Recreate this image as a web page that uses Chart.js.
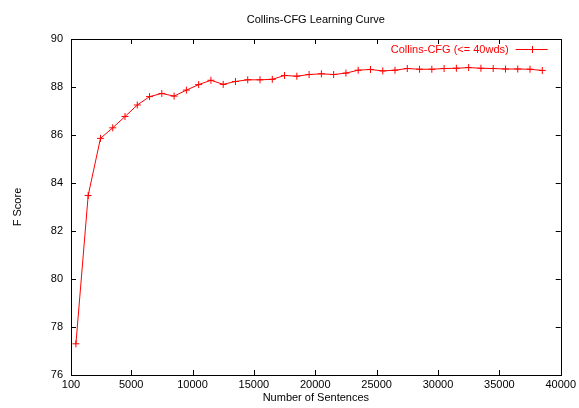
<!DOCTYPE html>
<html>
<head>
<meta charset="utf-8">
<script src="https://cdn.jsdelivr.net/npm/chart.js@4/dist/chart.umd.min.js"></script>
<style>
html,body{margin:0;padding:0;background:#fff;}
#wrap{width:579px;height:408px;}
</style>
</head>
<body>
<div id="wrap"><canvas id="c" width="579" height="408"></canvas></div>
<script>
const sentenceCounts = [500, 1500, 2500, 3500, 4500, 5500, 6500, 7500, 8500, 9500,
  10500, 11500, 12500, 13500, 14500, 15500, 16500, 17500, 18500, 19500,
  20500, 21500, 22500, 23500, 24500, 25500, 26500, 27500, 28500, 29500,
  30500, 31500, 32500, 33500, 34500, 35500, 36500, 37500, 38500];
const fScores = [77.30, 83.48, 85.86, 86.30, 86.77, 87.25, 87.60, 87.73, 87.62, 87.87,
  88.10, 88.28, 88.11, 88.23, 88.30, 88.30, 88.32, 88.48, 88.45, 88.52,
  88.55, 88.52, 88.58, 88.70, 88.73, 88.67, 88.70, 88.77, 88.74, 88.74,
  88.77, 88.78, 88.81, 88.78, 88.77, 88.75, 88.75, 88.74, 88.69];
const xTickValues = [100, 5000, 10000, 15000, 20000, 25000, 30000, 35000, 40000];
const xTickLabels = ["100", "5000", "10000", "15000", "20000", "25000", "30000", "35000", "40000"];
const yTickValues = [76, 78, 80, 82, 84, 86, 88, 90];
const seriesName = "Collins-CFG (<= 40wds)";
const chartTitle = "Collins-CFG Learning Curve";
const xTitle = "Number of Sentences";
const yTitle = "F Score";

const FONT = "'Liberation Sans', Arial, sans-serif";
const RED = "#ff0000";

const framePlugin = {
  id: 'frame',
  beforeDatasetsDraw(chart) {
    const ctx = chart.ctx, a = chart.chartArea;
    const xs = chart.scales.x, ys = chart.scales.y;
    const tl = 5;
    ctx.save();
    ctx.strokeStyle = '#000';
    ctx.lineWidth = 1;
    ctx.beginPath();
    xs.ticks.forEach(t => {
      const px = Math.round(xs.getPixelForValue(t.value)) + 0.5;
      ctx.moveTo(px, a.bottom); ctx.lineTo(px, a.bottom - tl);
      ctx.moveTo(px, a.top); ctx.lineTo(px, a.top + tl);
    });
    ys.ticks.forEach(t => {
      const py = Math.round(ys.getPixelForValue(t.value)) + 0.5;
      ctx.moveTo(a.left, py); ctx.lineTo(a.left + tl, py);
      ctx.moveTo(a.right, py); ctx.lineTo(a.right - tl, py);
    });
    ctx.stroke();
    ctx.strokeRect(Math.round(a.left) + 0.5, Math.round(a.top) + 0.5,
      Math.round(a.right - a.left), Math.round(a.bottom - a.top));
    ctx.restore();
  },
  afterDraw(chart) {
    const ctx = chart.ctx, a = chart.chartArea;
    const ds = chart.data.datasets[0];
    ctx.save();
    // title centred over the plot area
    ctx.font = "11px " + FONT;
    ctx.fillStyle = '#000';
    ctx.textAlign = 'center';
    ctx.textBaseline = 'middle';
    ctx.fillText(chartTitle, (a.left + a.right) / 2, a.top - 19);
    // legend inside top-right
    const y = a.top + 10.5;
    const lineX1 = a.right - 45, lineX2 = a.right - 13;
    ctx.fillStyle = RED;
    ctx.textAlign = 'right';
    ctx.fillText(ds.label, lineX1 - 7, y);
    ctx.strokeStyle = RED;
    ctx.lineWidth = 1;
    ctx.beginPath();
    ctx.moveTo(lineX1, y); ctx.lineTo(lineX2, y);
    const cx = Math.round((lineX1 + lineX2) / 2) + 0.5;
    ctx.moveTo(cx - 3.5, y); ctx.lineTo(cx + 3.5, y);
    ctx.moveTo(cx, y - 3.5); ctx.lineTo(cx, y + 3.5);
    ctx.stroke();
    ctx.restore();
  }
};

new Chart(document.getElementById('c'), {
  type: 'line',
  data: {
    datasets: [{
      label: seriesName,
      data: sentenceCounts.map((x, i) => ({x: x, y: fScores[i]})),
      borderColor: RED,
      backgroundColor: RED,
      borderWidth: 1,
      pointStyle: 'cross',
      pointRadius: 3.5,
      pointBorderWidth: 1,
      pointBorderColor: RED,
      pointHoverRadius: 3.5,
      tension: 0,
      fill: false
    }]
  },
  options: {
    responsive: false,
    animation: false,
    devicePixelRatio: 1,
    layout: {padding: {top: 39, right: 17, left: 0, bottom: 0}},
    plugins: {
      legend: {display: false},
      tooltip: {enabled: false},
      title: {display: false}
    },
    scales: {
      x: {
        type: 'linear',
        min: 100,
        max: 40000,
        afterBuildTicks: s => { s.ticks = xTickValues.map(v => ({value: v})); },
        afterFit: s => { s.height = 33; },
        grid: {display: false, drawTicks: false},
        border: {display: false},
        ticks: {
          color: '#000',
          font: {family: FONT, size: 11},
          padding: 3,
          maxRotation: 0,
          autoSkip: false,
          callback: (v, i) => xTickLabels[i]
        },
        title: {
          display: true,
          text: xTitle,
          color: '#000',
          font: {family: FONT, size: 11},
          padding: {top: 0, bottom: 3}
        }
      },
      y: {
        type: 'linear',
        min: 76,
        max: 90,
        afterBuildTicks: s => { s.ticks = yTickValues.map(v => ({value: v})); },
        afterFit: s => { s.width = 71; },
        grid: {display: false, drawTicks: false},
        border: {display: false},
        ticks: {
          color: '#000',
          font: {family: FONT, size: 11},
          padding: 8,
          callback: v => String(v)
        },
        title: {
          display: true,
          text: yTitle,
          color: '#000',
          font: {family: FONT, size: 11},
          padding: {top: 11, bottom: 0}
        }
      }
    }
  },
  plugins: [framePlugin]
});
</script>
</body>
</html>
